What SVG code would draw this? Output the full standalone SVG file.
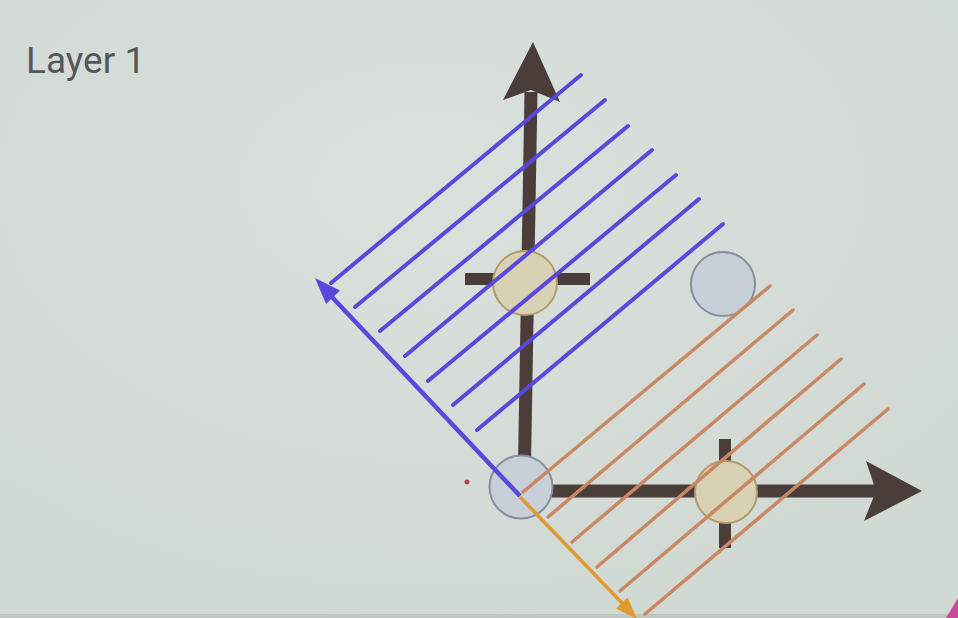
<svg xmlns="http://www.w3.org/2000/svg" width="958" height="618" viewBox="0 0 958 618">
<defs>
<radialGradient id="bg" cx="0.45" cy="0.3" r="0.8">
<stop offset="0" stop-color="#dae0dc"/>
<stop offset="1" stop-color="#d0d8d2"/>
</radialGradient>
<style>
.axis{stroke:#4a3d3a;stroke-width:13;fill:none}
.head{fill:#4a3d3a}
.tick{stroke:#4a3d3a;stroke-width:12}
.blue{stroke:#5a48dc;stroke-width:4;stroke-linecap:round;fill:none}
.orange{stroke:#c98763;stroke-width:3.5;stroke-linecap:round;fill:none}
.tan{fill:#d8d1b3;stroke:#b69a6e;stroke-width:2}
.grey{fill:#c8cfd8;stroke:#868e9c;stroke-width:2}
.label{font-family:Roboto,"Liberation Sans",sans-serif;font-size:37px;fill:#55565c}
</style>
</defs>
<rect width="958" height="618" fill="url(#bg)"/>
<rect x="0" y="614" width="958" height="4" fill="#bfc6c1"/>
<polygon points="958,598 958,618 946,618" fill="#c8489a"/>
<g id="title"><text class="label" x="26" y="73">Layer 1</text></g>
<g id="axes">
<line class="tick" x1="465" y1="279" x2="590" y2="279"/>
<line class="tick" x1="725" y1="439" x2="725" y2="548"/>
<path class="axis" d="M524,492 L531,92"/>
<polygon class="head" points="533,42 560,102 531,90 503,100"/>
<path class="axis" d="M530,491 L878,491"/>
<polygon class="head" points="922,491 864,521 876,491 866,461"/>
</g>
<g id="node-tan-top"><circle class="tan" cx="525" cy="283" r="32"/></g>
<g id="node-grey-top"><circle class="grey" cx="723" cy="284" r="32"/></g>
<g id="node-origin"><circle class="grey" cx="521" cy="487" r="31.5"/></g>
<g id="node-tan-right"><circle class="tan" cx="726" cy="492" r="31"/></g>
<g id="node-dot"><circle cx="467" cy="482" r="2.5" fill="#b04455"/></g>
<g id="connectors">
<g id="blue-hatch">
<line class="blue" x1="331" y1="283" x2="581" y2="75"/>
<line class="blue" x1="355" y1="307" x2="605" y2="100"/>
<line class="blue" x1="380" y1="331" x2="628" y2="126"/>
<line class="blue" x1="405" y1="356" x2="652" y2="150"/>
<line class="blue" x1="428" y1="381" x2="676" y2="175"/>
<line class="blue" x1="453" y1="405" x2="699" y2="199"/>
<line class="blue" x1="477" y1="430" x2="723" y2="224"/>
</g>
<g id="orange-hatch">
<line class="orange" x1="523" y1="492" x2="770" y2="286"/>
<line class="orange" x1="548" y1="517" x2="793" y2="310"/>
<line class="orange" x1="572" y1="542" x2="817" y2="335"/>
<line class="orange" x1="597" y1="567" x2="841" y2="359"/>
<line class="orange" x1="620" y1="591" x2="864" y2="384"/>
<line class="orange" x1="645" y1="614" x2="888" y2="409"/>
</g>
<line x1="520" y1="496" x2="331" y2="296" stroke="#5a48dc" stroke-width="4.5"/>
<polygon points="315,278 340,290.5 326,304" fill="#5a48dc"/>
<line x1="520" y1="497" x2="623" y2="604" stroke="#e0982f" stroke-width="3.5"/>
<polygon points="637,619 627.6,597.6 616,608.6" fill="#e0982f"/>
</g>
</svg>
